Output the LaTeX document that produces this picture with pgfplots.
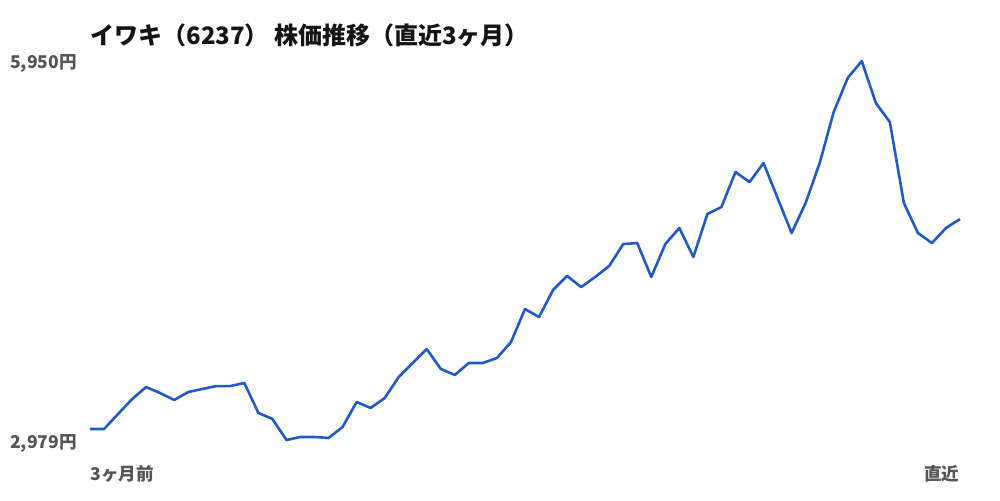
\documentclass[border=0pt]{standalone}
\usepackage{fontspec}
\setmainfont{Noto Sans CJK JP}
\usepackage{pgfplots}
\pgfplotsset{compat=1.18}
\definecolor{lineblue}{RGB}{34,90,204}
\definecolor{labgray}{RGB}{85,85,85}
\begin{document}
\begin{tikzpicture}
% 1px = 0.5pt; page is 1000x500 px
\path[use as bounding box] (-45pt,-30pt) rectangle (455pt,220pt);
\begin{axis}[
    at={(0,0)}, anchor=south west,
    scale only axis,
    width=435pt, height=189.5pt,
    xmin=0, xmax=62,
    ymin=2979, ymax=5950,
    axis line style={draw=none},
    major tick length=0pt,
    xtick=\empty,
    ytick={2979,5950},
    yticklabels={{2,979円},{5,950円}},
    yticklabel style={font=\bfseries\fontsize{8.8}{10}\selectfont, text=labgray, xshift=-3pt, yshift=-1.5pt},
    clip=false,
]
\addplot[lineblue, line width=1.3pt, line join=round] table[row sep=crcr]{
x y \\
0 3065 \\ 1 3065 \\ 2 3183 \\ 3 3300 \\ 4 3394 \\ 5 3347 \\ 6 3293 \\ 7 3355 \\
8 3379 \\ 9 3402 \\ 10 3402 \\ 11 3426 \\ 12 3191 \\ 13 3144 \\ 14 2979 \\ 15 3003 \\
16 3003 \\ 17 2995 \\ 18 3081 \\ 19 3277 \\ 20 3230 \\ 21 3308 \\ 22 3473 \\ 23 3583 \\
24 3692 \\ 25 3536 \\ 26 3489 \\ 27 3583 \\ 28 3583 \\ 29 3622 \\ 30 3747 \\ 31 4006 \\
32 3943 \\ 33 4155 \\ 34 4265 \\ 35 4178 \\ 36 4257 \\ 37 4343 \\ 38 4515 \\ 39 4523 \\
40 4257 \\ 41 4515 \\ 42 4641 \\ 43 4414 \\ 44 4751 \\ 45 4805 \\ 46 5080 \\ 47 5001 \\
48 5150 \\ 49 4876 \\ 50 4602 \\ 51 4837 \\ 52 5150 \\ 53 5550 \\ 54 5817 \\ 55 5950 \\
56 5621 \\ 57 5472 \\ 58 4837 \\ 59 4602 \\ 60 4523 \\ 61 4641 \\ 62 4711 \\
};
\node[anchor=west, font=\bfseries\fontsize{8.8}{10}\selectfont, text=labgray, inner sep=0pt]
    at ([yshift=-17pt]rel axis cs:0,0) {3ヶ月前};
\node[anchor=east, font=\bfseries\fontsize{8.8}{10}\selectfont, text=labgray, inner sep=0pt]
    at ([yshift=-17pt]rel axis cs:1,0) {直近};
\node[anchor=west, font=\bfseries\fontsize{12}{14}\selectfont, text=black!92, inner sep=0pt]
    at ([yshift=13pt]rel axis cs:0,1) {イワキ（6237） 株価推移（直近3ヶ月）};
\end{axis}
\end{tikzpicture}
\end{document}
